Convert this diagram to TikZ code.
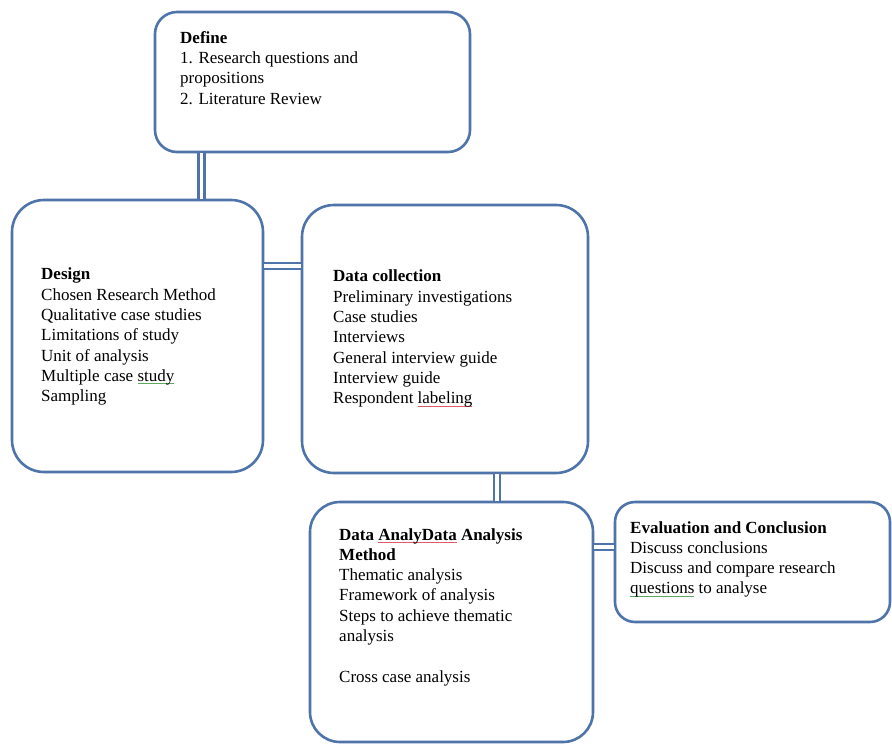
\documentclass[tikz,border=0pt]{standalone}
\usepackage{fontspec}
\setmainfont{Liberation Serif}
\usepackage{xcolor}
\usepackage{tikz}
\usetikzlibrary{positioning,calc}
\definecolor{boxblue}{HTML}{4E74AA}
\definecolor{spellred}{HTML}{E05A6A}
\definecolor{spellgreen}{HTML}{5FA85F}
% spell-check style mark under a word
\newcommand{\spellmark}[2]{\setbox0\hbox{#2}\rlap{\color{#1}\rule[-2.5pt]{\wd0}{0.7pt}}\box0\relax}

\begin{document}
\begin{tikzpicture}[
    x=1pt, y=-1pt,
    stagebox/.style={draw=boxblue, fill=white, line width=2.6pt, inner sep=0pt},
    stagetext/.style={anchor=north west, align=left, inner sep=0pt,
        font=\fontsize{17}{20.3}\selectfont},
    dblink/.style={draw=boxblue, line width=2.4pt, double=white, double distance=3.5pt},
]
% background / page size
\fill[white] (0,0) rectangle (892,744);
\useasboundingbox (0,0) rectangle (892,744);

% ============================================================
% BOXES
% ============================================================
\node[stagebox, rounded corners=22pt, minimum width=315pt, minimum height=140pt] (define) at (312.5,82) {};
\node[stagebox, rounded corners=32pt, minimum width=251pt, minimum height=272pt] (design) at (137.5,336) {};
\node[stagebox, rounded corners=32pt, minimum width=286pt, minimum height=268pt] (collection) at (445,339) {};
\node[stagebox, rounded corners=30pt, minimum width=283pt, minimum height=240pt] (analysis) at (451.5,622) {};
\node[stagebox, rounded corners=20pt, minimum width=275pt, minimum height=120pt] (evaluation) at (752.5,562) {};

% ============================================================
% TEXTS
% ============================================================
\node[stagetext] (definetext) at (180,31) {\textbf{Define}\\
    1. Research questions and\\
    propositions\\
    2. Literature Review};

\node[stagetext] (designtext) at (41,268) {\textbf{Design}\\
    Chosen Research Method\\
    Qualitative case studies\\
    Limitations of study\\
    Unit of analysis\\
    Multiple case \spellmark{spellgreen}{study}\\
    Sampling};

\node[stagetext] (collectiontext) at (333,270) {\textbf{Data collection}\\
    Preliminary investigations\\
    Case studies\\
    Interviews\\
    General interview guide\\
    Interview guide\\
    Respondent \spellmark{spellred}{labeling}};

\node[stagetext] (analysistext) at (339,528) {\textbf{Data \spellmark{spellred}{AnalyData} Analysis}\\
    \textbf{Method}\\
    Thematic analysis\\
    Framework of analysis\\
    Steps to achieve thematic\\
    analysis\\[20.3pt]
    Cross case analysis};

\node[stagetext] (evaluationtext) at (630,521) {\textbf{Evaluation and Conclusion}\\
    Discuss conclusions\\
    Discuss and compare research\\
    \spellmark{spellgreen}{questions} to analyse};

% ============================================================
% LINKS
% ============================================================
\draw[dblink] ([xshift=64pt]design.north) -- ([xshift=64pt]design.north |- define.south);
\draw[dblink] ([yshift=70pt]design.east) -- ([yshift=70pt]design.east -| collection.west);
\draw[dblink] ([xshift=52pt]collection.south) -- ([xshift=52pt]collection.south |- analysis.north);
\draw[dblink] ([yshift=15pt]evaluation.west) -- ([yshift=15pt]evaluation.west -| analysis.east);

\end{tikzpicture}
\end{document}
